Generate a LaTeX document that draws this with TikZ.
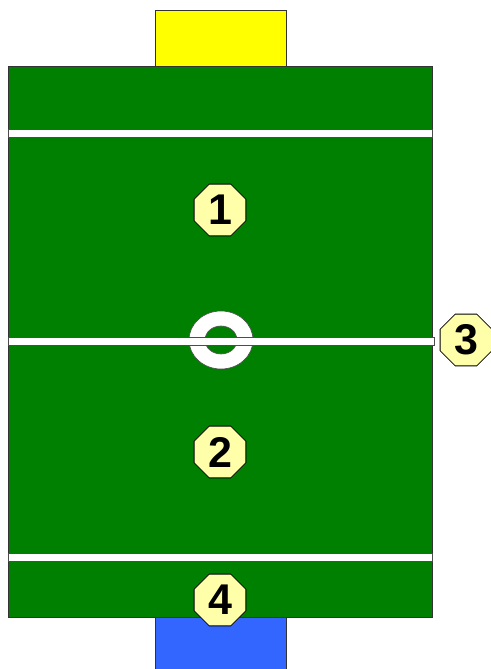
\documentclass[tikz,border=0pt]{standalone}
\usepackage{fontspec}
\setmainfont{Liberation Sans}
\usetikzlibrary{shapes.geometric}
\definecolor{pitch}{RGB}{0,128,0}
\definecolor{goalyellow}{RGB}{255,255,0}
\definecolor{goalblue}{RGB}{51,102,255}
\definecolor{tagfill}{RGB}{255,255,170}

\begin{document}
\begin{tikzpicture}[x=1pt, y=-1pt,
	marker/.style={regular polygon, regular polygon sides=8, minimum size=56pt, inner sep=0pt,
		fill=tagfill, draw=black, line width=0.8pt, font=\fontsize{43}{43}\selectfont\bfseries},
	fieldline/.style={fill=white, draw=black!70, line width=0.6pt}]
	\useasboundingbox (0,0) rectangle (490,669);
	\filldraw[goalyellow, draw=black!80] (155,10) rectangle (286,66);
	\filldraw[goalblue, draw=black!80] (155,617) rectangle (286,672);
	\filldraw[pitch, draw=black!80] (8,66) rectangle (432,617);
	\filldraw[fieldline] (8,129) rectangle (432,137);
	\filldraw[fieldline] (8,553) rectangle (432,561);
	\filldraw[fieldline, even odd rule] (221,340) ellipse [x radius=32, y radius=29]
		(221,340) ellipse [x radius=16, y radius=14];
	\filldraw[fieldline] (8,337) rectangle (434,345);
	\node[marker] (zone1) at (220,210) {1};
	\node[marker] (zone2) at (220,452) {2};
	\node[marker] (side3) at (466,340) {3};
	\node[marker] (goal4) at (220,600) {4};
\end{tikzpicture}
\end{document}
